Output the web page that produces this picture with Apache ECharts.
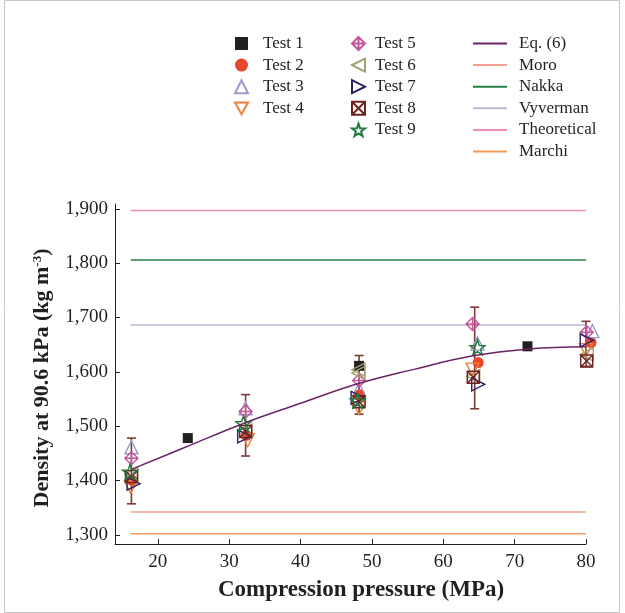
<!DOCTYPE html>
<html><head><meta charset="utf-8">
<script src="https://cdn.jsdelivr.net/npm/echarts@6/dist/echarts.min.js"></script>
<style>html,body{margin:0;padding:0;background:#fff}#c{width:625px;height:613px}</style>
</head><body><div id="c"></div>
<script>
// ---- data ----
const xTicks = [20, 30, 40, 50, 60, 70, 80];
const yTicks = [1300, 1400, 1500, 1600, 1700, 1800, 1900];

const eqX = [16.2, 24, 32, 40, 48, 56, 64, 72, 80];
const eqY = [1420, 1462, 1505, 1542, 1578, 1605, 1629, 1642, 1646];

const test1 = [[24.2, 1478], [48.2, 1611], [71.8, 1647]];
const test2 = [[16.4, 1400], [32.4, 1483], [48.3, 1558], [64.9, 1617], [80.7, 1654]];
const test3 = [[16.3, 1461], [32.3, 1533], [48.2, 1568], [64.8, 1652], [80.9, 1675]];
const test4 = [[16.2, 1388], [32.6, 1474], [48.2, 1533], [64.1, 1604], [80.0, 1640]];
const test5 = [[16.3, 1441], [32.3, 1527], [48.2, 1584], [64.1, 1688], [80.1, 1673]];
const test6 = [[16.3, 1412], [32.3, 1492], [48.1, 1598], [48.1, 1604], [64.2, 1592], [80.1, 1632]];
const test7 = [[16.6, 1394], [32.1, 1481], [48.0, 1552], [64.9, 1577], [80.1, 1658]];
const test8 = [[16.3, 1407], [32.3, 1490], [48.2, 1545], [64.2, 1590], [80.1, 1620]];
const test9 = [[16.1, 1416], [32.0, 1505], [48.0, 1547], [64.8, 1645]];

const errX = [16.3, 32.3, 48.2, 64.4, 80.0];
const errLow = [1357, 1445, 1522, 1532, 1610];
const errHigh = [1478, 1558, 1630, 1719, 1693];

const refNames = ['Moro', 'Nakka', 'Vyverman', 'Theoretical', 'Marchi'];
const refValues = [1342, 1806, 1686, 1897, 1302];
const refRange = [16.2, 80];

// ---- styling ----
const FONT = 'Liberation Serif';
const INK = '#231f20';
const testNames = ['Test 1','Test 2','Test 3','Test 4','Test 5','Test 6','Test 7','Test 8','Test 9'];
const testData = [test1,test2,test3,test4,test5,test6,test7,test8,test9];
const testStyle = [
  {symbol:'rect', size:10, fill:'#231f20', stroke:'#231f20'},
  {symbol:'circle', size:11, fill:'#e8472e', stroke:'#e8472e'},
  {symbol:'triangle', size:13, fill:'rgba(0,0,0,0)', stroke:'#9d9bcb'},
  {symbol:'path://M0,0 L10,0 L5,9 Z', size:13, fill:'rgba(0,0,0,0)', stroke:'#f0803a'},
  {symbol:'path://M5,0 L10,5 L5,10 L0,5 Z M5,0 L5,10 M0,5 L10,5', size:13, fill:'rgba(0,0,0,0)', stroke:'#c4559b'},
  {symbol:'path://M10,0 L0,5 L10,10 Z', size:13, fill:'rgba(0,0,0,0)', stroke:'#a39f73'},
  {symbol:'path://M0,0 L10,5 L0,10 Z', size:13, fill:'rgba(0,0,0,0)', stroke:'#2b2062'},
  {symbol:'path://M0,0 L10,0 L10,10 L0,10 Z M0,0 L10,10 M10,0 L0,10', size:12, fill:'rgba(0,0,0,0)', stroke:'#6e2320'},
  {symbol:'path://M5,0 L6.2,3.6 L10,3.7 L7,6 L8.1,9.6 L5,7.5 L1.9,9.6 L3,6 L0,3.7 L3.8,3.6 Z', size:15, fill:'rgba(0,0,0,0)', stroke:'#1f7a3e'}
];
const refColors = ['#f0a090', '#2a8048', '#bdb9d2', '#f08cb8', '#f59a5a'];
const eqColor = '#6b2464';
const errColor = '#7a3a35';

const series = [];
series.push({
  name: 'err', type: 'custom', z: 2, clip: false,
  data: errX.map((x, i) => [x, errLow[i], errHigh[i]]),
  renderItem: function (params, api) {
    const p1 = api.coord([api.value(0), api.value(1)]);
    const p2 = api.coord([api.value(0), api.value(2)]);
    const w = 4.5;
    const st = {stroke: errColor, lineWidth: 1.6};
    return {type: 'group', children: [
      {type: 'line', shape: {x1: p1[0], y1: p1[1], x2: p2[0], y2: p2[1]}, style: st},
      {type: 'line', shape: {x1: p1[0]-w, y1: p1[1], x2: p1[0]+w, y2: p1[1]}, style: st},
      {type: 'line', shape: {x1: p2[0]-w, y1: p2[1], x2: p2[0]+w, y2: p2[1]}, style: st}
    ]};
  }
});
testNames.forEach((n, i) => {
  const s = testStyle[i];
  series.push({
    name: n, type: 'scatter', z: 3, clip: false,
    symbol: s.symbol, symbolSize: s.size,
    itemStyle: {color: s.fill, borderColor: s.stroke, borderWidth: i < 2 ? 0 : 1.4, opacity: 1},
    data: testData[i]
  });
});
series.push({
  name: 'Eq. (6)', type: 'line', smooth: 0.4, symbol: 'none', z: 4, clip: false,
  lineStyle: {color: eqColor, width: 1.5}, itemStyle: {color: eqColor, opacity: 0},
  data: eqX.map((x, i) => [x, eqY[i]])
});
refNames.forEach((n, i) => {
  series.push({
    name: n, type: 'line', symbol: 'none', z: 1, clip: false,
    lineStyle: {color: refColors[i], width: 1.5}, itemStyle: {color: refColors[i], opacity: 0},
    data: [[refRange[0], refValues[i]], [refRange[1], refValues[i]]]
  });
});

const legText = {fontFamily: FONT, fontSize: 17, color: INK, lineHeight: 16};
const chart = echarts.init(document.getElementById('c'));
chart.setOption({
  animation: false,
  backgroundColor: '#fff',
  grid: {left: 115, right: 39, top: 204, bottom: 69},
  xAxis: {
    type: 'value', min: 14, max: 80,
    splitLine: {show: false},
    axisLine: {show: true, lineStyle: {color: INK, width: 1}},
    axisTick: {show: true, inside: true, length: 5, customValues: xTicks, lineStyle: {color: INK}},
    axisLabel: {customValues: xTicks, fontFamily: FONT, fontSize: 19, color: INK, margin: 9}
  },
  yAxis: {
    type: 'value', min: 1283, max: 1909,
    splitLine: {show: false},
    axisLine: {show: true, lineStyle: {color: INK, width: 1}},
    axisTick: {show: true, inside: true, length: 5, customValues: yTicks, lineStyle: {color: INK}},
    axisLabel: {customValues: yTicks, fontFamily: FONT, fontSize: 19, color: INK, margin: 7,
      formatter: v => v.toLocaleString('en-US')}
  },
  legend: [
    {data: testNames.slice(0, 4), orient: 'vertical', left: 229, top: 30, itemWidth: 13, itemHeight: 13,
     itemGap: 4.6, textStyle: Object.assign({padding: [0, 0, 0, 10]}, legText), selectedMode: false},
    {data: testNames.slice(4), orient: 'vertical', left: 346, top: 30, itemWidth: 13, itemHeight: 13,
     itemGap: 4.6, textStyle: Object.assign({padding: [0, 0, 0, 5]}, legText), selectedMode: false},
    {data: ['Eq. (6)'].concat(refNames), orient: 'vertical', left: 467, top: 30, itemWidth: 34, itemHeight: 12,
     itemGap: 4.6, itemStyle: {opacity: 0}, textStyle: Object.assign({padding: [0, 0, 0, 7]}, legText), selectedMode: false}
  ],
  graphic: [
    {type: 'rect', shape: {x: 4.5, y: 0.5, width: 615, height: 612}, style: {fill: 'none', stroke: '#c8c8c8', lineWidth: 1}, silent: true},
    {type: 'text', x: 361, y: 590, style: {text: 'Compression pressure (MPa)', fontFamily: FONT, fontWeight: 'bold', fontSize: 23, fill: INK, textAlign: 'center', textVerticalAlign: 'middle'}},
    {type: 'text', x: 42, y: 378, rotation: Math.PI / 2,
     style: {text: 'Density at 90.6 kPa (kg m{sup|-3})', fontFamily: FONT, fontWeight: 'bold', fontSize: 22, fill: INK,
       textAlign: 'center', textVerticalAlign: 'middle',
       rich: {sup: {fontFamily: FONT, fontWeight: 'bold', fontSize: 13, fill: INK, verticalAlign: 'top', padding: [0, 0, 9, 0]}}}}
  ],
  series: series
});
</script></body></html>
